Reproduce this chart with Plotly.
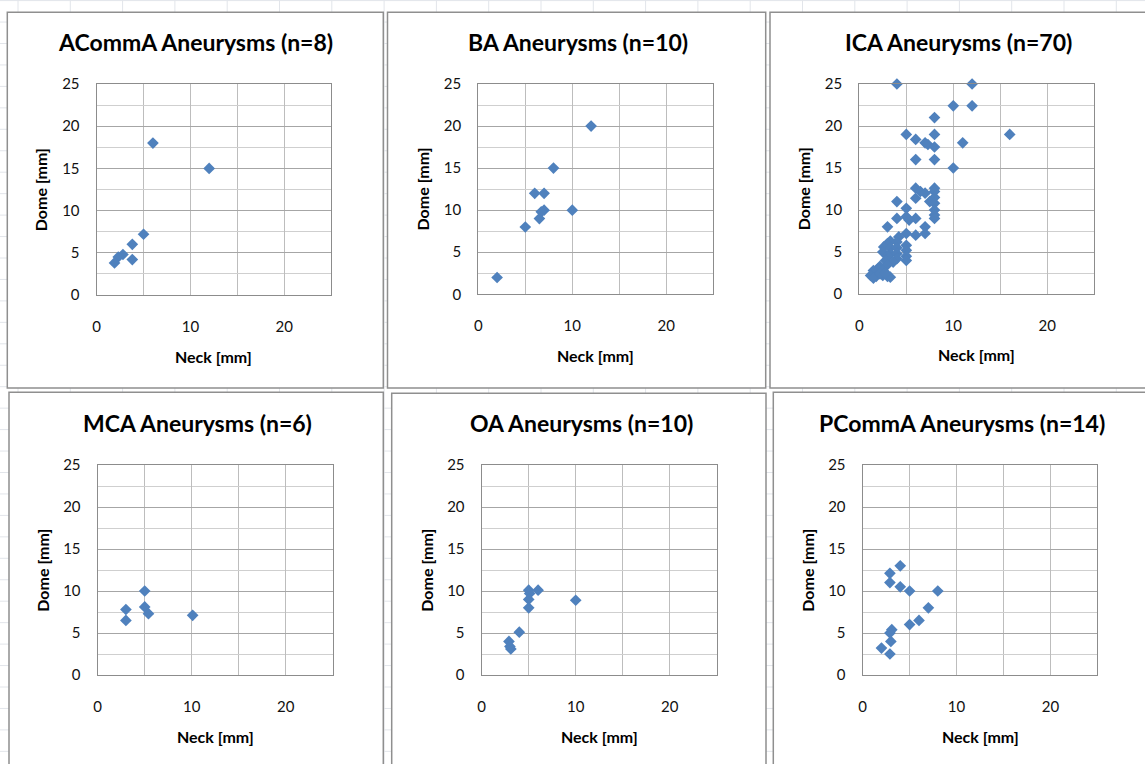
import plotly.graph_objects as go

W, H = 1145, 764

# ---------------- data ----------------
titles = ["ACommA Aneurysms (n=8)", "BA Aneurysms (n=10)", "ICA Aneurysms (n=70)",
          "MCA Aneurysms (n=6)", "OA Aneurysms (n=10)", "PCommA Aneurysms (n=14)"]

acomm_neck = [6, 12, 5, 3.8, 3.8, 2.8, 2.3, 1.9]
acomm_dome = [18, 15, 7.2, 6, 4.2, 4.8, 4.5, 3.8]

ba_neck = [2, 12, 8, 6, 7, 7, 6.7, 6.5, 5, 10]
ba_dome = [2, 20, 15, 12, 12, 10, 9.8, 9, 8, 10]

ica_neck = [4, 12, 10, 12, 8, 5, 8, 16, 6, 7, 7.3, 8, 11, 6, 8, 10,
            4, 6, 6.5, 7, 8, 8, 6, 8, 7.5, 8, 8, 8, 8, 5, 5, 4, 6, 5.3, 3, 7,
            7, 6, 5, 4.2, 3.3, 4, 3, 2.6, 3.3, 4, 5, 5, 2.5, 3.3, 4, 5, 3, 4,
            5, 2.8, 3.6, 2.2, 3, 2, 1.5, 2.5, 1.2, 1.8, 2.5, 3, 3.3, 1.5, 2.2, 2.8]
ica_dome = [25, 25, 22.4, 22.4, 21, 19, 19, 19, 18.4, 18, 17.8, 17.5, 18, 16, 16, 15,
            11, 12.6, 12.2, 12, 12.6, 12.2, 11.4, 11.5, 11, 10.8, 10, 9.4, 9, 10.2, 9.2, 9, 9, 8.8, 8, 8,
            7.2, 7, 7.2, 6.8, 6.3, 6.2, 6, 5.6, 5.5, 5.5, 5.8, 5.2, 5, 4.8, 4.8, 4.5, 4.5, 4.2,
            4, 4, 3.8, 3.3, 3.5, 3, 2.8, 2.8, 2.2, 2.1, 2.2, 2.1, 2, 1.9, 2.4, 2.5]

mca_neck = [5, 3, 3, 5, 5.4, 10.1]
mca_dome = [10, 7.8, 6.5, 8.1, 7.3, 7.1]

oa_neck = [5, 6, 5.1, 5, 5, 10, 4, 2.9, 3.1, 3]
oa_dome = [10.1, 10.1, 9.7, 9, 8, 8.9, 5.1, 4, 3.1, 3.4]

pcomm_neck = [4, 2.9, 2.9, 4, 5, 8, 7, 6, 5, 3.1, 2.9, 3, 2, 2.9]
pcomm_dome = [13, 12.1, 11, 10.5, 10, 10, 8, 6.5, 6, 5.4, 5, 4, 3.2, 2.5]

neck_series = [acomm_neck, ba_neck, ica_neck, mca_neck, oa_neck, pcomm_neck]
dome_series = [acomm_dome, ba_dome, ica_dome, mca_dome, oa_dome, pcomm_dome]

x_title = "Neck [mm]"
y_title = "Dome [mm]"

# ---------------- layout geometry (pixels) ----------------
plot_boxes = [  # x0, x1, ytop, ybottom
    (96.7, 331.0, 84, 295),
    (478.3, 713.3, 84, 294.3),
    (859.3, 1094.3, 84, 294),
    (97.7, 332.7, 465, 675),
    (481.7, 716.7, 465, 675),
    (862.7, 1097.3, 465, 675),
]
frames = [
    (7.3, 12.3, 383.3, 388),
    (387.5, 12.3, 765.7, 388),
    (770, 12.3, 1147, 388),
    (9, 392.3, 383.3, 790),
    (391.7, 393.3, 766, 790),
    (773.3, 392.3, 1147, 790),
]

FONT = "Lato"
MARK = "#4F81BD"

def px(x):
    return x / W

def py(y):
    return 1 - y / H

fig = go.Figure()
shapes = []
annotations = []

# spreadsheet cell grid in background
gx = 18.0
while gx < W:
    shapes.append(dict(type="line", xref="paper", yref="paper", x0=px(gx), x1=px(gx),
                       y0=0, y1=1, line=dict(color="#e2e5ea", width=1), layer="below"))
    gx += 52.3
gy = 0.6
while gy < H:
    shapes.append(dict(type="line", xref="paper", yref="paper", x0=0, x1=1,
                       y0=py(gy), y1=py(gy), line=dict(color="#e2e5ea", width=1), layer="below"))
    gy += 21.45

for i in range(6):
    x0, x1, yt, yb = plot_boxes[i]
    fx0, fy0, fx1, fy1 = frames[i]
    shapes.append(dict(type="rect", xref="paper", yref="paper",
                       x0=px(fx0), x1=px(fx1), y0=py(fy1), y1=py(fy0),
                       line=dict(color="#8f8f8f", width=1.5), fillcolor="white", layer="below"))
    sfx = "" if i == 0 else str(i + 1)
    fig.add_trace(go.Scatter(
        x=neck_series[i], y=dome_series[i], mode="markers", cliponaxis=False,
        marker=dict(symbol="diamond", size=9, color=MARK, line=dict(width=0)),
        xaxis="x" + sfx, yaxis="y" + sfx, showlegend=False, hoverinfo="x+y"))
    common = dict(range=[0, 25], showline=True, mirror=True, linecolor="#8c8c8c", linewidth=1.3,
                  zeroline=False, ticks="outside", tickcolor="rgba(0,0,0,0)", automargin=False,
                  tickfont=dict(family=FONT, size=15, color="#111111"), fixedrange=True)
    fig.layout["xaxis" + sfx] = dict(
        common, domain=[px(x0), px(x1)], anchor="y" + sfx, tickmode="linear", tick0=0, dtick=10,
        ticklen=18, showgrid=True, gridcolor="#bdbdbd", gridwidth=1.3,
        minor=dict(tickmode="linear", tick0=0, dtick=5, showgrid=True, gridcolor="#bdbdbd", gridwidth=1.3))
    fig.layout["yaxis" + sfx] = dict(
        common, domain=[py(yb), py(yt)], anchor="x" + sfx, tickmode="linear", tick0=0, dtick=5,
        ticklen=13, showgrid=True, gridcolor="#a6a6a6", gridwidth=1.3,
        minor=dict(tickmode="linear", tick0=0, dtick=2.5, showgrid=True, gridcolor="#cfcfcf", gridwidth=1.3))
    cx = (x0 + x1) / 2
    annotations.append(dict(text="<b>" + titles[i] + "</b>", xref="paper", yref="paper",
                            x=px(cx - 18), y=py(yt - 42), xanchor="center", yanchor="middle",
                            showarrow=False, font=dict(family=FONT, size=23, color="black")))
    annotations.append(dict(text="<b>" + x_title + "</b>", xref="paper", yref="paper",
                            x=px(cx), y=py(yb + 61), xanchor="center", yanchor="middle",
                            showarrow=False, font=dict(family=FONT, size=16, color="black")))
    annotations.append(dict(text="<b>" + y_title + "</b>", xref="paper", yref="paper",
                            x=px(x0 - 56), y=py((yt + yb) / 2), xanchor="center", yanchor="middle",
                            textangle=-90, showarrow=False, font=dict(family=FONT, size=16, color="black")))

fig.update_layout(template="none", width=W, height=H, margin=dict(l=0, r=0, t=0, b=0, pad=0),
                  paper_bgcolor="white", plot_bgcolor="rgba(0,0,0,0)",
                  shapes=shapes, annotations=annotations, showlegend=False)

fig.write_html("out.html", config={"displayModeBar": False})
